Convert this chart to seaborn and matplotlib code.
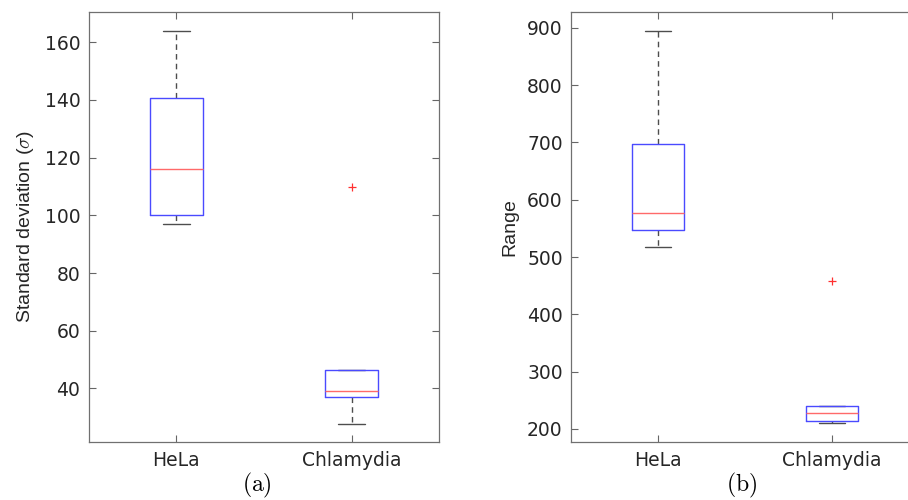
import matplotlib
matplotlib.use("Agg")
import matplotlib.pyplot as plt
import seaborn as sns

# Groups on the x axis
categories = ["HeLa", "Chlamydia"]

# Standard deviation per group: whisker low, Q1, median, Q3, whisker high
sd_whislo = [97.0, 27.8]
sd_q1 = [100.2, 36.9]
sd_med = [116.1, 39.05]
sd_q3 = [140.8, 46.3]
sd_whishi = [163.9, 46.3]
sd_fliers = [[], [109.7]]

# Range per group
rg_whislo = [516.9, 210.0]
rg_q1 = [547.1, 214.0]
rg_med = [577.3, 227.4]
rg_q3 = [697.1, 240.1]
rg_whishi = [894.2, 240.1]
rg_fliers = [[], [458.7]]

sd_ticks = [40, 60, 80, 100, 120, 140, 160]
rg_ticks = [200, 300, 400, 500, 600, 700, 800, 900]

sns.set_theme(style="white")
plt.rcParams["font.family"] = ["DejaVu Sans"]
plt.rcParams["mathtext.fontset"] = "cm"

fig = plt.figure(figsize=(9.08, 5.0), dpi=100)
ax1 = fig.add_axes([0.0977, 0.1154, 0.3861, 0.8612])
ax2 = fig.add_axes([0.6289, 0.1154, 0.3826, 0.8612])


def stats_for(labels, lo, q1, med, q3, hi, fl):
    return [dict(label=l, whislo=a, q1=b, med=c, q3=d, whishi=e, fliers=f)
            for l, a, b, c, d, e, f in zip(labels, lo, q1, med, q3, hi, fl)]


def draw(ax, stats, ylim, ticks, ylabel):
    ax.bxp(stats, positions=[1, 2], widths=0.3, showfliers=True,
           boxprops=dict(color="#4a4aff", linewidth=1.0, zorder=3),
           medianprops=dict(color="#ff6a6a", linewidth=1.0, zorder=3),
           whiskerprops=dict(color="#4d4d4d", linewidth=1.0,
                             linestyle=(0, (4, 3)), zorder=2),
           capprops=dict(color="#4d4d4d", linewidth=1.0, zorder=2),
           capwidths=0.15,
           flierprops=dict(marker="+", markeredgecolor="#ff3030",
                           markersize=6, markeredgewidth=0.9,
                           linestyle="none"))
    ax.set_xlim(0.5, 2.5)
    ax.set_ylim(*ylim)
    ax.set_xticks([1, 2])
    ax.set_xticklabels(categories)
    ax.set_yticks(ticks)
    ax.tick_params(axis="both", direction="in", length=5, width=0.8,
                   color="#666666", labelcolor="#262626", labelsize=13.5,
                   top=True, right=True, bottom=True, left=True, pad=6)
    for s in ax.spines.values():
        s.set_visible(True)
        s.set_color("#707070")
        s.set_linewidth(0.9)
    ax.set_ylabel(ylabel, family="Liberation Sans", fontsize=14,
                  color="#262626", labelpad=6)
    ax.grid(False)


draw(ax1, stats_for(categories, sd_whislo, sd_q1, sd_med, sd_q3, sd_whishi,
                    sd_fliers),
     (21.3, 170.6), sd_ticks, r"Standard deviation ($\sigma$)")
draw(ax2, stats_for(categories, rg_whislo, rg_q1, rg_med, rg_q3, rg_whishi,
                    rg_fliers),
     (176.8, 927.9), rg_ticks, "Range")

fig.text(257 / 908, 1 - 485 / 500, r"$\mathrm{(a)}$", ha="center",
         va="center", fontsize=17, color="black")
fig.text(742 / 908, 1 - 485 / 500, r"$\mathrm{(b)}$", ha="center",
         va="center", fontsize=17, color="black")

fig.savefig("out.png", dpi=100)
